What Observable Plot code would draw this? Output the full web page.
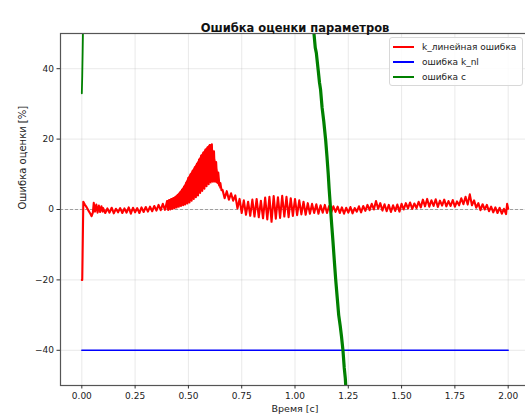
<!DOCTYPE html>
<html>
<head>
<meta charset="utf-8">
<script src="https://cdn.jsdelivr.net/npm/d3@7"></script>
<script src="https://cdn.jsdelivr.net/npm/@observablehq/plot@0.6"></script>
<style>
  html, body { margin: 0; padding: 0; background: white; }
  #wrap { position: relative; width: 525px; height: 416px; overflow: hidden; font-family: "DejaVu Sans", sans-serif; }
  #legend { position: absolute; left: 389px; top: 37px; width: 134px; height: 49px; box-sizing: border-box;
    border: 1px solid #d8d8d8; border-radius: 3px; background: rgba(255,255,255,0.85); font-size: 9px; color: #222; }
  .item { position: absolute; left: 0; width: 130px; height: 12px; line-height: 12px; white-space: nowrap; }
  .sw { position: absolute; left: 3px; top: 5px; width: 21px; height: 2px; }
  .lb { position: absolute; left: 32px; top: 0; }
</style>
</head>
<body>
<div id="wrap"><div id="legend"></div></div>
<script>
const title = "Ошибка оценки параметров";
const xLabel = "Время [с]";
const yLabel = "Ошибка оценки [%]";
const seriesNames = ["k_линейная ошибка", "ошибка k_nl", "ошибка c"];
const seriesColors = ["red", "blue", "green"];
const xTicks = [0, 0.25, 0.5, 0.75, 1.0, 1.25, 1.5, 1.75, 2.0];
const yTicks = [-40, -20, 0, 20, 40];

// k linear error [t, %]
const kLinErr = [
  [0.000,-20],[0.002,-20],[0.007,2.2],[0.014,1.4],[0.020,0.9],[0.026,0.3],[0.032,-0.4],[0.040,-1.2],
  [0.046,-1.9],[0.052,-0.8],[0.056,1.9],[0.062,-0.6],[0.068,1.4],[0.074,-0.9],[0.080,1.1],[0.086,-0.7],
  [0.092,0.9],[0.098,-0.6],
  [0.10,0.4],[0.11,-1.0],[0.12,0.3],[0.13,-0.9],[0.14,0.5],[0.15,-1.1],[0.16,0.2],[0.17,-0.8],[0.18,0.4],
  [0.19,-1.0],[0.20,0.3],[0.21,-0.9],[0.22,0.6],[0.23,-1.2],[0.24,0.5],[0.25,-0.8],[0.26,0.4],[0.27,-1.0],
  [0.28,0.6],[0.29,-0.7],[0.30,0.7],[0.31,-0.6],[0.32,0.8],[0.33,-0.5],[0.34,1.0],[0.35,-0.3],[0.36,1.3],
  [0.37,-0.2],[0.38,1.6],[0.39,-0.1],
  [0.400,2.4],[0.405,-0.1],[0.410,2.7],[0.415,0.0],[0.420,3.0],[0.425,0.2],[0.430,3.2],[0.435,0.4],
  [0.440,3.6],[0.445,0.6],[0.450,4.1],[0.455,0.8],[0.460,4.8],[0.465,1.0],[0.470,5.6],[0.475,1.2],
  [0.480,6.5],[0.485,1.4],[0.490,7.6],[0.495,1.7],[0.500,9.0],[0.505,2.0],[0.510,10.0],[0.515,2.5],
  [0.520,11.0],[0.525,3.0],[0.530,12.0],[0.535,3.5],[0.540,13.0],[0.545,4.0],[0.550,14.2],[0.555,4.7],
  [0.560,15.3],[0.565,5.3],[0.570,16.2],[0.575,5.9],[0.580,17.0],[0.585,6.6],[0.590,17.7],[0.595,7.2],
  [0.600,18.3],[0.605,7.7],[0.610,18.5],[0.615,7.9],[0.620,16.5],[0.625,7.9],[0.630,13.5],[0.635,7.7],
  [0.640,10.5],[0.645,7.0],[0.650,7.5],[0.655,5.5],[0.660,5.6],
  [0.67,3.2],[0.68,5.2],[0.69,2.8],[0.70,4.6],[0.71,2.5],[0.72,4.0],[0.73,0.3],[0.74,3.0],[0.75,-1.0],
  [0.76,2.6],[0.77,-1.5],[0.78,2.2],[0.79,-1.8],[0.80,2.8],[0.81,-2.0],[0.82,3.0],[0.83,-2.2],[0.84,2.5],
  [0.85,-2.5],[0.86,3.4],[0.87,-2.8],[0.88,3.6],[0.89,-3.5],[0.90,3.8],[0.91,-2.6],[0.92,3.5],[0.93,-2.4],
  [0.94,3.9],[0.95,-2.0],[0.96,3.6],[0.97,-2.2],[0.98,3.2],[0.99,-1.8],[1.00,3.0],[1.01,-1.6],[1.02,2.6],
  [1.03,-1.4],[1.04,2.2],[1.05,-1.5],[1.06,1.8],[1.07,-1.2],[1.08,1.6],[1.09,-1.0],[1.10,1.5],[1.11,-1.2],
  [1.12,1.2],[1.13,-0.9],[1.14,1.3],[1.15,-1.0],[1.16,1.0],[1.17,-0.8],[1.18,0.9],[1.19,-0.7],[1.20,0.8],
  [1.21,-1.0],[1.22,0.6],[1.23,-1.2],[1.24,0.5],[1.25,-0.9],[1.26,0.7],[1.27,-1.1],[1.28,0.4],[1.29,-0.6],
  [1.30,0.9],[1.31,-0.8],[1.32,1.0],[1.33,-0.4],[1.34,1.3],[1.35,-0.2],[1.36,1.6],[1.37,0.0],[1.38,2.4],
  [1.39,0.2],[1.40,1.8],[1.41,-0.3],[1.42,1.5],[1.43,-0.5],[1.44,1.3],[1.45,-0.7],[1.46,1.2],[1.47,-0.4],
  [1.48,1.4],[1.49,-0.6],[1.50,1.6],[1.51,0.0],[1.52,1.8],[1.53,0.3],[1.54,2.0],[1.55,0.2],[1.56,1.7],
  [1.57,0.4],[1.58,2.2],[1.59,0.6],[1.60,2.8],[1.61,0.9],[1.62,3.0],[1.63,0.8],[1.64,2.6],[1.65,1.0],
  [1.66,2.9],[1.67,0.7],[1.68,2.5],[1.69,1.1],[1.70,2.8],[1.71,0.9],[1.72,2.4],[1.73,1.0],[1.74,2.7],
  [1.75,0.8],[1.76,2.3],[1.77,1.2],[1.78,3.2],[1.79,1.5],[1.80,3.6],[1.81,1.4],[1.82,4.3],[1.83,1.2],
  [1.84,2.6],[1.85,0.5],[1.86,1.8],[1.87,-0.2],[1.88,1.5],[1.89,0.0],[1.90,1.3],[1.91,-0.5],[1.92,0.8],
  [1.93,-0.8],[1.94,0.6],[1.95,-1.0],[1.96,0.5],[1.97,-1.2],[1.98,0.2],[1.99,-1.3],[1.995,1.6],[2.00,0.2]
];

// envelope of the fast oscillation around the peak [t, lower, upper]
const kLinPeakBand = [
  [0.40,-0.1,2.4],[0.42,0.1,3.0],[0.44,0.5,3.6],[0.46,0.9,4.8],[0.48,1.3,6.5],[0.50,1.9,9.0],
  [0.52,2.9,11.0],[0.54,3.9,13.0],[0.56,5.1,15.3],[0.58,6.4,17.0],[0.60,7.6,18.3],[0.61,7.8,18.5],
  [0.62,7.9,16.5],[0.63,7.7,13.5],[0.64,7.0,10.5],[0.65,5.6,7.4]
];

// k_nl error
const kNlErr = [[0.0,-40],[2.0,-40]];

// c error (two visible pieces)
const cErrStart = [[0.000,33],[0.002,38],[0.004,45],[0.006,53]];
const cErrMain = [
  [1.086,52],[1.095,46],[1.100,44.5],[1.109,39.5],[1.115,36],[1.120,34],[1.127,29],[1.135,25],
  [1.144,19.6],[1.150,15],[1.156,10],[1.160,6],[1.167,0],[1.173,-5],[1.178,-9],[1.185,-15],
  [1.191,-20],[1.198,-25],[1.205,-30],[1.212,-33],[1.218,-36],[1.225,-40],[1.231,-45],[1.236,-48],[1.240,-52]
];

const chart = Plot.plot({
  width: 525,
  height: 416,
  marginLeft: 60,
  marginRight: -4,
  marginTop: 33,
  marginBottom: 31,
  style: { fontFamily: "DejaVu Sans, sans-serif", fontSize: "9px", color: "#222", background: "white" },
  x: { domain: [-0.1, 2.1] },
  y: { domain: [-50, 50] },
  marks: [
    Plot.gridX(xTicks, { stroke: "#b0b0b0", strokeOpacity: 0.35, strokeWidth: 0.8 }),
    Plot.gridY(yTicks, { stroke: "#b0b0b0", strokeOpacity: 0.35, strokeWidth: 0.8 }),
    Plot.ruleY([0], { stroke: "#808080", strokeOpacity: 0.8, strokeDasharray: "3,2", strokeWidth: 0.9 }),
    Plot.areaY(kLinPeakBand, { x: d => d[0], y1: d => d[1], y2: d => d[2], fill: seriesColors[0], curve: "linear", clip: true }),
    Plot.line(kLinErr, { x: d => d[0], y: d => d[1], stroke: seriesColors[0], strokeWidth: 2.1, clip: true }),
    Plot.line(kNlErr, { x: d => d[0], y: d => d[1], stroke: seriesColors[1], strokeWidth: 1.5, clip: true }),
    Plot.line(cErrStart, { x: d => d[0], y: d => d[1], stroke: seriesColors[2], strokeWidth: 1.8, clip: true }),
    Plot.line(cErrMain, { x: d => d[0], y: d => d[1], stroke: seriesColors[2], strokeWidth: 3.2, clip: true }),
    Plot.frame({ stroke: "#555", strokeWidth: 1.2 }),
    Plot.axisX(xTicks, { tickFormat: d3.format(".2f"), tickSize: 3.5, tickPadding: 4, fontSize: 9, label: null, stroke: "#333" }),
    Plot.axisY(yTicks, { tickFormat: d3.format("d"), tickSize: 3.5, tickPadding: 3, fontSize: 9, label: null, stroke: "#333" }),
    Plot.text([title], { text: d => d, frameAnchor: "top", dy: -10, fontSize: 11.5, fontWeight: "bold", fill: "#111" }),
    Plot.text([xLabel], { text: d => d, frameAnchor: "bottom", dy: 26, fontSize: 9.5, fill: "#222" }),
    Plot.text([yLabel], { text: d => d, frameAnchor: "left", dx: -38, rotate: -90, fontSize: 10, fill: "#222" })
  ]
});
document.getElementById("wrap").prepend(chart);

const legend = document.getElementById("legend");
seriesNames.forEach((name, i) => {
  const item = document.createElement("div");
  item.className = "item";
  item.style.top = (3 + i * 15) + "px";
  const sw = document.createElement("div");
  sw.className = "sw";
  sw.style.backgroundColor = seriesColors[i];
  const lb = document.createElement("span");
  lb.className = "lb";
  lb.textContent = name;
  item.appendChild(sw);
  item.appendChild(lb);
  legend.appendChild(item);
});
</script>
</body>
</html>
